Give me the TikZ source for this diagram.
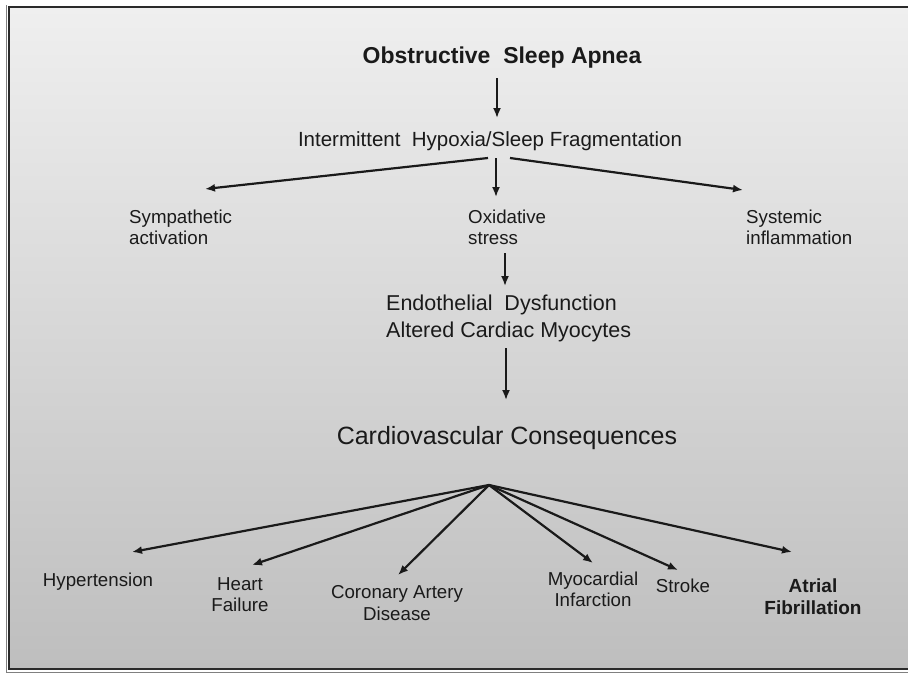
\documentclass[tikz,border=0pt]{standalone}
\usepackage{fontspec}
\setmainfont{Liberation Sans}
\usetikzlibrary{arrows.meta}
\definecolor{txt}{HTML}{1A1A1A}
\definecolor{bgtop}{HTML}{EFEFEF}
\definecolor{bgbot}{HTML}{BEBEBE}
\definecolor{framec}{HTML}{2A2A2A}
\begin{document}
\begin{tikzpicture}[x=1pt,y=-1pt,
  lbl/.style={inner sep=0pt, text=txt, font=\fontsize{18.7}{21.5}\selectfont},
  midlbl/.style={lbl, align=left, anchor=west, font=\fontsize{18.7}{21}\selectfont},
  botlbl/.style={lbl, align=center},
  arr/.style={-{Latex[length=10pt,width=8pt]}, line width=1.8pt, draw=txt},
  fanarr/.style={arr, line width=2.2pt}]
\useasboundingbox (0,0) rectangle (908,673);
\fill[white] (0,0) rectangle (908,673);
\shade[top color=bgtop, bottom color=bgbot] (9,7) rectangle (908,669);
\draw[framec, line width=2.4pt] (908,7) -- (9,7) -- (9,669) -- (908,669);
\draw[gray, line width=0.8pt] (908,672) -- (6,672) -- (6,5);

% nodes
\node[lbl, font=\bfseries\fontsize{23}{27}\selectfont] (osa) at (502,58) {Obstructive\ \ Sleep Apnea};
\node[lbl, font=\fontsize{20.5}{24}\selectfont] (ih) at (490,141) {Intermittent\ \ Hypoxia/Sleep Fragmentation};
\node[midlbl] (sym) at (129,227.5) {Sympathetic\\activation};
\node[midlbl] (oxi) at (468,227.5) {Oxidative\\stress};
\node[midlbl] (sys) at (746,227.5) {Systemic\\inflammation};
\node[lbl, align=left, anchor=west, font=\fontsize{21.5}{27}\selectfont] (endo) at (386,318.5) {Endothelial\ \ Dysfunction\\Altered Cardiac Myocytes};
\node[lbl, font=\fontsize{25}{30}\selectfont] (cvc) at (507,438) {Cardiovascular Consequences};
\node[botlbl] (hyp) at (98,582) {Hypertension};
\node[botlbl] (hf) at (240,594.5) {Heart\\Failure};
\node[botlbl] (cad) at (397,603) {Coronary Artery\\Disease};
\node[botlbl] (mi) at (593,589.5) {Myocardial\\Infarction};
\node[botlbl] (str) at (683,586) {Stroke};
\node[botlbl, font=\bfseries\fontsize{19}{21.5}\selectfont] (af) at (813,596.5) {Atrial\\Fibrillation};

% connector end points
\coordinate (osaS) at (497,78);
\coordinate (ihN) at (497,118);
\coordinate (ihL) at (488,158);
\coordinate (ihM) at (496,158);
\coordinate (ihR) at (510,158);
\coordinate (symN) at (205,189);
\coordinate (oxiN) at (496,197);
\coordinate (sysN) at (743,190);
\coordinate (oxiS) at (505,253);
\coordinate (endoN) at (505,286);
\coordinate (endoS) at (506,348);
\coordinate (cvcN) at (506,400);
\coordinate (fan) at (489,485);
\coordinate (hypN) at (132,552);
\coordinate (hfN) at (252,565);
\coordinate (cadN) at (398,575);
\coordinate (miN) at (593,563);
\coordinate (strN) at (678,570);
\coordinate (afN) at (792,552);

% connectors
\draw[arr] (osaS) -- (ihN);
\draw[fanarr] (ihL) -- (symN);
\draw[arr] (ihM) -- (oxiN);
\draw[fanarr] (ihR) -- (sysN);
\draw[arr] (oxiS) -- (endoN);
\draw[arr] (endoS) -- (cvcN);
\draw[fanarr] (fan) -- (hypN);
\draw[fanarr] (fan) -- (hfN);
\draw[fanarr] (fan) -- (cadN);
\draw[fanarr] (fan) -- (miN);
\draw[fanarr] (fan) -- (strN);
\draw[fanarr] (fan) -- (afN);
\end{tikzpicture}
\end{document}
